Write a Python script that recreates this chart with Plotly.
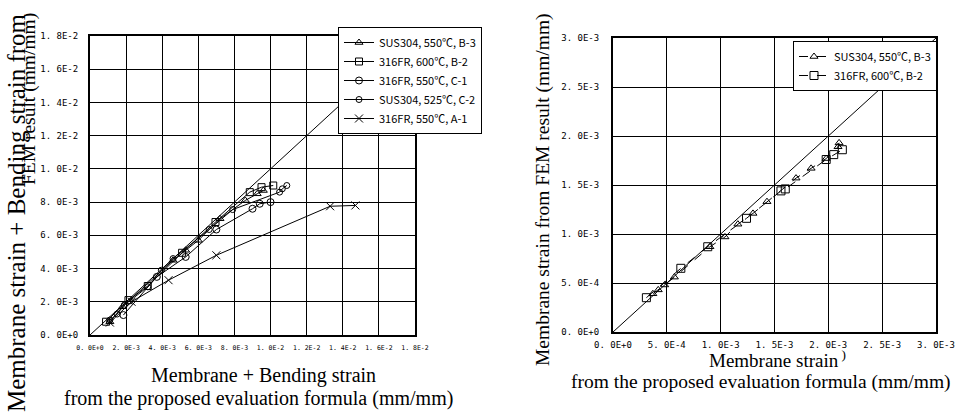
import plotly.graph_objects as go

# ---------------- data: left chart (Membrane + Bending) ----------------
b3_x = [1.1e-3, 1.8e-3, 4.6e-3, 5.3e-3, 6.0e-3, 7.2e-3, 8.6e-3, 9.26e-3, 9.6e-3]
b3_y = [0.8e-3, 1.7e-3, 4.5e-3, 5.1e-3, 5.7e-3, 7.0e-3, 8.1e-3, 8.5e-3, 8.7e-3]

b2_x = [0.89e-3, 2.13e-3, 3.2e-3, 5.1e-3, 6.95e-3, 8.85e-3, 9.5e-3, 10.15e-3]
b2_y = [0.80e-3, 2.1e-3, 2.95e-3, 4.95e-3, 6.8e-3, 8.6e-3, 8.9e-3, 9.0e-3]

c1_x = [1.85e-3, 3.7e-3, 5.3e-3, 7.0e-3, 9.0e-3, 9.4e-3, 10.0e-3]
c1_y = [1.2e-3, 3.5e-3, 4.7e-3, 6.35e-3, 7.6e-3, 7.9e-3, 8.0e-3]

c2_x = [1.1e-3, 1.5e-3, 1.9e-3, 3.2e-3, 3.95e-3, 4.6e-3, 6.6e-3, 7.9e-3, 10.5e-3, 10.65e-3, 10.9e-3]
c2_y = [0.9e-3, 1.26e-3, 1.8e-3, 2.9e-3, 3.9e-3, 4.6e-3, 6.35e-3, 7.55e-3, 8.6e-3, 8.8e-3, 9.0e-3]

a1_x = [1.1e-3, 2.3e-3, 4.35e-3, 7.0e-3, 13.3e-3, 14.7e-3]
a1_y = [0.75e-3, 2.0e-3, 3.3e-3, 4.8e-3, 7.75e-3, 7.8e-3]

diag_left = [0.0, 0.018]

# ---------------- data: right chart (Membrane only) ----------------
rb3_x = [0.37e-3, 0.42e-3, 0.48e-3, 0.57e-3, 0.90e-3, 1.04e-3, 1.16e-3, 1.30e-3, 1.43e-3,
         1.70e-3, 1.84e-3, 1.98e-3, 2.09e-3, 2.10e-3]
rb3_y = [0.39e-3, 0.43e-3, 0.48e-3, 0.56e-3, 0.87e-3, 0.97e-3, 1.10e-3, 1.21e-3, 1.33e-3,
         1.57e-3, 1.67e-3, 1.77e-3, 1.89e-3, 1.93e-3]

rb2_x = [0.31e-3, 0.63e-3, 0.88e-3, 1.24e-3, 1.56e-3, 1.60e-3, 1.98e-3, 2.05e-3, 2.13e-3]
rb2_y = [0.35e-3, 0.65e-3, 0.87e-3, 1.16e-3, 1.44e-3, 1.46e-3, 1.76e-3, 1.81e-3, 1.86e-3]

diag_right = [0.0, 0.003]

# ---------------- tick values / labels ----------------
left_ticks = [0, 0.002, 0.004, 0.006, 0.008, 0.010, 0.012, 0.014, 0.016, 0.018]
left_labels = ["0. 0E+0", "2. 0E-3", "4. 0E-3", "6. 0E-3", "8. 0E-3", "1. 0E-2",
               "1. 2E-2", "1. 4E-2", "1. 6E-2", "1. 8E-2"]
right_ticks = [0, 0.0005, 0.001, 0.0015, 0.002, 0.0025, 0.003]
right_labels = ["0. 0E+0", "5. 0E-4", "1. 0E-3", "1. 5E-3", "2. 0E-3", "2. 5E-3", "3. 0E-3"]

legend_names = ["SUS304, 550℃, B-3", "316FR, 600℃, B-2", "316FR, 550℃, C-1",
                "SUS304, 525℃, C-2", "316FR, 550℃, A-1"]

W, H = 964, 418
BLACK = "black"

fig = go.Figure()


def px(x):
    return x / W


def py(y):
    return 1 - y / H


line_style = dict(color=BLACK, width=1)

# diagonal (y = x) reference lines
fig.add_trace(go.Scatter(x=diag_left, y=diag_left, mode="lines", line=line_style,
                         showlegend=False, xaxis="x", yaxis="y", hoverinfo="skip"))
fig.add_trace(go.Scatter(x=diag_right, y=diag_right, mode="lines", line=line_style,
                         showlegend=False, xaxis="x2", yaxis="y2", hoverinfo="skip"))

left_series = [
    (b3_x, b3_y, "triangle-up-open", 7),
    (b2_x, b2_y, "square-open", 7),
    (c1_x, c1_y, "circle-open", 7),
    (c2_x, c2_y, "circle-open", 6),
    (a1_x, a1_y, "x-thin-open", 8),
]
for (xs, ys, sym, sz), name in zip(left_series, legend_names):
    fig.add_trace(go.Scatter(
        x=xs, y=ys, mode="lines+markers", name=name,
        line=line_style,
        marker=dict(symbol=sym, size=sz, color=BLACK, line=dict(color=BLACK, width=1)),
        xaxis="x", yaxis="y", legend="legend"))

right_series = [
    (rb3_x, rb3_y, "triangle-up-open", 7),
    (rb2_x, rb2_y, "square-open", 8),
]
for (xs, ys, sym, sz), name in zip(right_series, legend_names[:2]):
    fig.add_trace(go.Scatter(
        x=xs, y=ys, mode="lines+markers", name=name,
        line=dict(color=BLACK, width=1, dash="dash"),
        marker=dict(symbol=sym, size=sz, color=BLACK, line=dict(color=BLACK, width=1)),
        xaxis="x2", yaxis="y2", legend="legend2"))

tick_font_small = dict(family="DejaVu Sans Mono", size=6.5, color=BLACK)
tick_font = dict(family="DejaVu Sans Mono", size=9, color=BLACK)

axis_common = dict(showgrid=True, gridcolor=BLACK, gridwidth=1.2, showline=True,
                   linecolor=BLACK, linewidth=2, mirror=True, zeroline=False,
                   ticks="", tickmode="array", automargin=False)

legend_font = dict(family="Noto Sans CJK JP", size=11, color=BLACK)

fig.update_layout(
    width=W, height=H,
    margin=dict(l=0, r=0, t=0, b=0, pad=0, autoexpand=False),
    paper_bgcolor="white", plot_bgcolor="white",
    xaxis=dict(domain=[px(90), px(415)], range=[0, 0.018], anchor="y",
               tickvals=left_ticks, ticktext=left_labels, tickfont=tick_font_small,
               ticklabelstandoff=5, **axis_common),
    yaxis=dict(domain=[py(335), py(36)], range=[0, 0.018], anchor="x",
               tickvals=left_ticks, ticktext=left_labels, tickfont=tick_font,
               ticklabelstandoff=8, **axis_common),
    xaxis2=dict(domain=[px(613), px(936)], range=[0, 0.003], anchor="y2",
                tickvals=right_ticks, ticktext=right_labels, tickfont=tick_font,
                ticklabelstandoff=3, **axis_common),
    yaxis2=dict(domain=[py(332), py(38)], range=[0, 0.003], anchor="x2",
                tickvals=right_ticks, ticktext=right_labels, tickfont=tick_font,
                ticklabelstandoff=10, **axis_common),
    legend=dict(x=px(338), y=py(27), xanchor="left", yanchor="top",
                bgcolor="white", bordercolor=BLACK, borderwidth=1,
                font=legend_font, itemwidth=30, tracegroupgap=0),
    legend2=dict(x=px(793), y=py(41), xanchor="left", yanchor="top",
                 bgcolor="white", bordercolor=BLACK, borderwidth=1,
                 font=legend_font, itemwidth=30, tracegroupgap=0),
    showlegend=True,
)

serif = "Liberation Serif"
annots = [
    dict(text="Membrane strain + Bending strain from", x=px(16), y=py(213), textangle=-90, size=25),
    dict(text="FEM result (mm/mm)", x=px(29), y=py(99), textangle=-90, size=19.5),
    dict(text="Membrane + Bending strain", x=px(263), y=py(375), textangle=0, size=20),
    dict(text="from the proposed evaluation formula (mm/mm)", x=px(258), y=py(398), textangle=0, size=20),
    dict(text="Membrane strain from FEM result (mm/mm)", x=px(543), y=py(190), textangle=-90, size=19.5),
    dict(text="Membrane strain<sup> )</sup>", x=px(777), y=py(359), textangle=0, size=19),
    dict(text="from the proposed evaluation formula (mm/mm)", x=px(761), y=py(382), textangle=0, size=19.5),
]
for a in annots:
    size = a.pop("size")
    fig.add_annotation(xref="paper", yref="paper", showarrow=False,
                       font=dict(family=serif, size=size, color=BLACK),
                       xanchor="center", yanchor="middle", **a)

fig.write_html("out.html")
